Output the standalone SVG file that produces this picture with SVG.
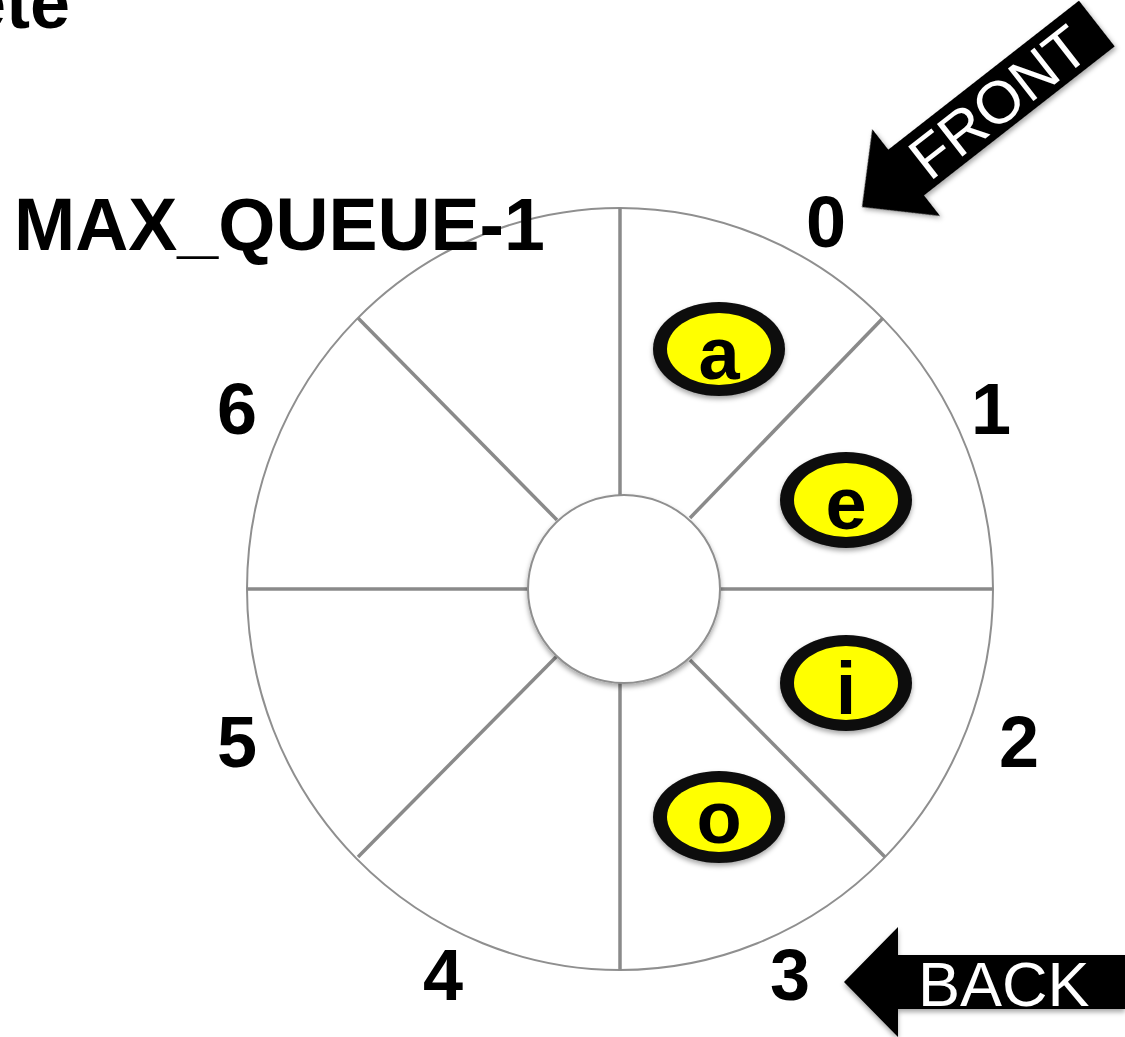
<svg xmlns="http://www.w3.org/2000/svg" width="1125" height="1037" viewBox="0 0 1125 1037">
<defs>
<style>
.lbl{font-family:"Liberation Sans",Arial,sans-serif;font-weight:bold;font-size:72px;fill:#000;}
.title{font-size:73.5px;}
.spoke{stroke:#8a8a8a;stroke-width:3.5;fill:none;}
.ring{fill:#fff;stroke:#8f8f8f;stroke-width:2;}
.item .outer{fill:#0a0a0a;}
.item .inner{fill:#ffff00;}
.item text{font-family:"Liberation Sans",Arial,sans-serif;font-weight:bold;font-size:74px;fill:#000;text-anchor:middle;}
.arrowtxt{font-family:"Liberation Sans",Arial,sans-serif;font-size:60px;fill:#fff;}
.backtxt{font-size:63px;}
</style>
<filter id="sh" x="-20%" y="-20%" width="140%" height="140%">
<feDropShadow dx="0" dy="3" stdDeviation="2.5" flood-color="#000" flood-opacity="0.35"/>
</filter>
</defs>
<rect width="1125" height="1037" fill="#fff"/>
<text class="lbl" x="70" y="28" text-anchor="end">ete</text>

<g id="wheel">
<ellipse class="ring" cx="620" cy="589" rx="373" ry="381"/>
</g>
<g id="connectors">
<line class="spoke" x1="620" y1="208" x2="620" y2="496"/>
<line class="spoke" x1="620" y1="683" x2="620" y2="970"/>
<line class="spoke" x1="247" y1="589" x2="528" y2="589"/>
<line class="spoke" x1="720" y1="589" x2="993" y2="589"/>
<line class="spoke" x1="358" y1="318" x2="557" y2="520"/>
<line class="spoke" x1="883" y1="318" x2="690" y2="518"/>
<line class="spoke" x1="358" y1="857" x2="557" y2="656"/>
<line class="spoke" x1="885" y1="857" x2="690" y2="660"/>
</g>
<g id="hub">
<ellipse class="ring" cx="624" cy="589" rx="96" ry="94" filter="url(#sh)"/>
</g>

<g id="item-a" class="item" filter="url(#sh)"><ellipse class="outer" cx="719" cy="349" rx="66" ry="47"/><ellipse class="inner" cx="719" cy="349" rx="52" ry="36"/><text x="719" y="379">a</text></g>
<g id="item-e" class="item" filter="url(#sh)"><ellipse class="outer" cx="846" cy="500" rx="66" ry="48"/><ellipse class="inner" cx="846" cy="500" rx="52" ry="37"/><text x="846" y="529">e</text></g>
<g id="item-i" class="item" filter="url(#sh)"><ellipse class="outer" cx="846" cy="683" rx="66" ry="48"/><ellipse class="inner" cx="846" cy="683" rx="52" ry="37"/><text x="846" y="714">i</text></g>
<g id="item-o" class="item" filter="url(#sh)"><ellipse class="outer" cx="719" cy="817" rx="66" ry="46"/><ellipse class="inner" cx="719" cy="817" rx="52" ry="35"/><text x="719" y="843">o</text></g>

<g id="labels">
<text class="lbl title" x="14" y="250">MAX_QUEUE-1</text>
<text class="lbl" x="826" y="247" text-anchor="middle">0</text>
<text class="lbl" x="991" y="434" text-anchor="middle">1</text>
<text class="lbl" x="1019" y="767" text-anchor="middle">2</text>
<text class="lbl" x="790" y="1000" text-anchor="middle">3</text>
<text class="lbl" x="443" y="1000" text-anchor="middle">4</text>
<text class="lbl" x="237" y="767" text-anchor="middle">5</text>
<text class="lbl" x="237" y="434" text-anchor="middle">6</text>
</g>

<g id="front-arrow" transform="translate(862,207) rotate(-38)">
<polygon points="0,0 56,-55 56,-29 298,-29 298,29 56,29 56,55" fill="#000" filter="url(#sh)"/>
<text class="arrowtxt" x="172" y="22" text-anchor="middle">FRONT</text>
</g>

<g id="back-arrow">
<polygon points="844,982 898,927 898,955 1125,955 1125,1009 898,1009 898,1037" fill="#000" filter="url(#sh)"/>
<text class="arrowtxt backtxt" x="918" y="1006">BACK</text>
</g>
</svg>
